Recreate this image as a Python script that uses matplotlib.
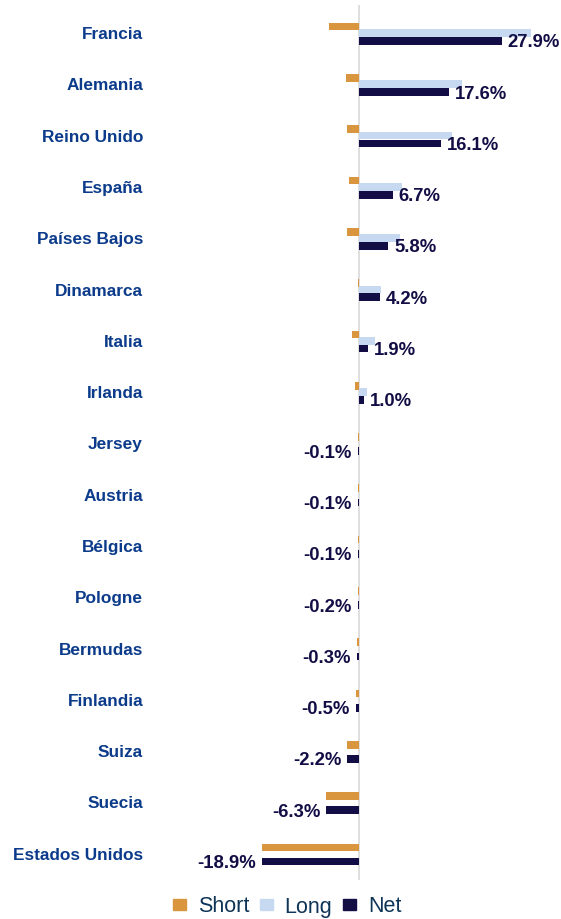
import matplotlib.pyplot as plt
import numpy as np
from matplotlib.patches import Patch

plt.rcParams['font.family'] = ['Liberation Sans', 'DejaVu Sans']

paises = ["Francia", "Alemania", "Reino Unido", "España", "Países Bajos", "Dinamarca",
          "Italia", "Irlanda", "Jersey", "Austria", "Bélgica", "Pologne", "Bermudas",
          "Finlandia", "Suiza", "Suecia", "Estados Unidos"]
short = [-5.8, -2.5, -2.2, -1.8, -2.2, -0.1, -1.3, -0.7, -0.1, -0.1, -0.1, -0.2, -0.3,
         -0.5, -2.2, -6.3, -18.9]
long_ = [33.7, 20.1, 18.3, 8.5, 8.0, 4.3, 3.2, 1.7, 0.0, 0.0, 0.0, 0.0, 0.0,
         0.0, 0.0, 0.0, 0.0]
net = [27.9, 17.6, 16.1, 6.7, 5.8, 4.2, 1.9, 1.0, -0.1, -0.1, -0.1, -0.2, -0.3,
       -0.5, -2.2, -6.3, -18.9]

c_short = "#D9963F"
c_long = "#C6D9F1"
c_net = "#120E45"
c_lab = "#0B3B8A"

W, H = 561, 919
fig = plt.figure(figsize=(W / 100, H / 100), dpi=100)
# axes placed in pixel terms
left, right, top, bottom = 150, 561, 5, 880
ax = fig.add_axes([left / W, 1 - bottom / H, (right - left) / W, (bottom - top) / H])

y = np.arange(len(paises))
h = 0.15
ax.barh(y - 0.125, short, height=h, color=c_short)
ax.barh(y, long_, height=h, color=c_long)
ax.barh(y + 0.152, net, height=h, color=c_net)

ax.axvline(0, color="#D9D9D9", lw=1.2, zorder=0)

for yi, v in zip(y, net):
    if v >= 0:
        ax.text(v + 1.1, yi + 0.19, f"{v:.1f}%", ha="left", va="center",
                fontsize=13.3, fontweight="bold", color=c_net)
    else:
        ax.text(v - 1.2, yi + 0.19, f"{v:.1f}%", ha="right", va="center",
                fontsize=13.3, fontweight="bold", color=c_net)

px = 5.12
ax.set_xlim((left - 358.7) / px, (right - 358.7) / px)
ax.set_ylim((bottom - 33) / 51.3, (top - 33) / 51.3)
ax.set_yticks(y)
ax.set_yticklabels(paises, fontsize=12.4, fontweight="bold", color=c_lab)
ax.tick_params(axis="y", length=0, pad=5)
ax.set_xticks([])
for s in ax.spines.values():
    s.set_visible(False)

handles = [Patch(color=c_short, label="Short"), Patch(color=c_long, label="Long"),
           Patch(color=c_net, label="Net")]
leg = fig.legend(handles=handles, loc="center", bbox_to_anchor=(287 / W, 1 - 907 / H),
                 ncol=3, frameon=False, fontsize=15.5, handlelength=0.6, handleheight=0.4,
                 handletextpad=0.55, columnspacing=0.5, borderpad=0.2)
for t in leg.get_texts():
    t.set_color("#0E3456")

fig.savefig("out.png", dpi=100)
